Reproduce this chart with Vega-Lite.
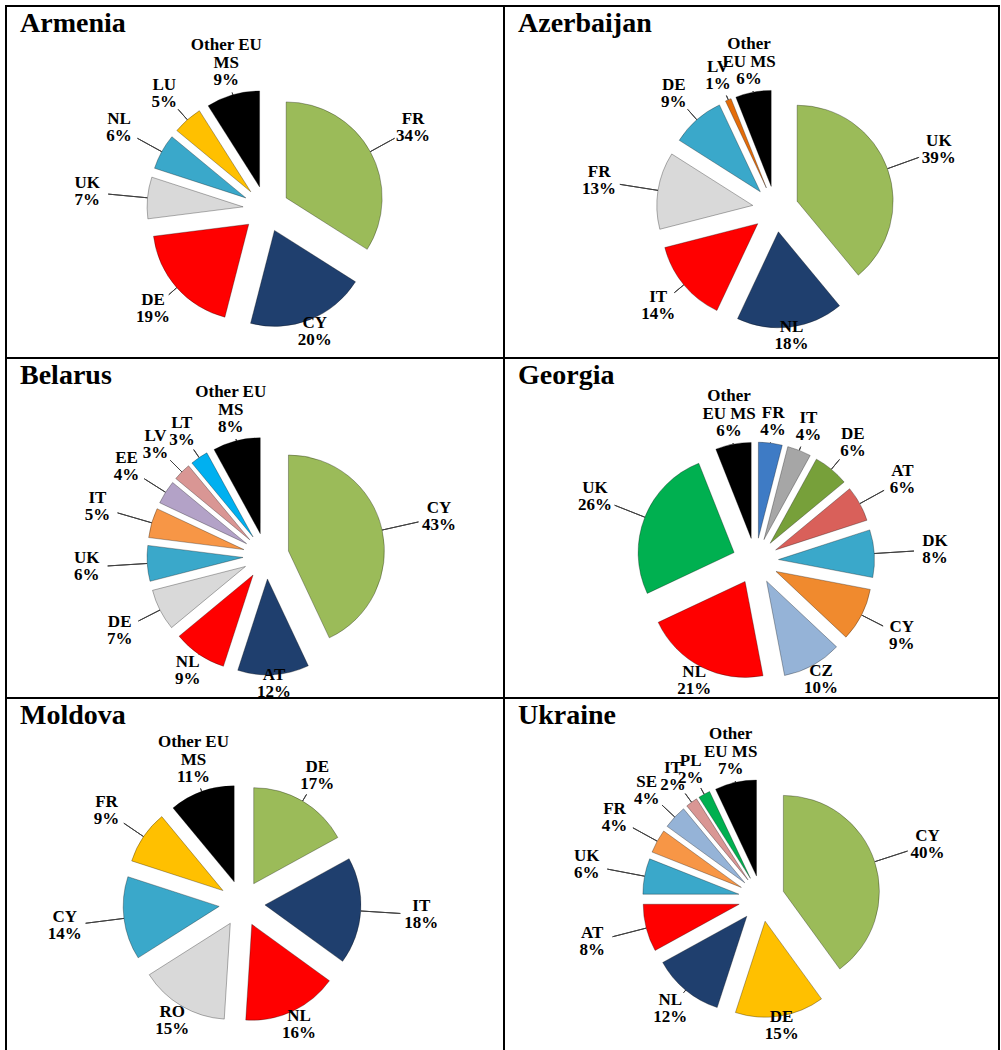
{
  "$schema": "https://vega.github.io/schema/vega-lite/v6.json",
  "padding": {"left": 5, "top": 5, "right": 0, "bottom": 0},
  "background": "white",
  "config": {
    "view": {"stroke": null},
    "concat": {"spacing": 0},
    "title": {"anchor": "start", "font": "Liberation Serif", "fontSize": 28, "fontWeight": "bold", "color": "black", "offset": -33, "baseline": "alphabetic", "dx": 15},
    "text": {"font": "Liberation Serif", "fontWeight": "bold", "fontSize": 17, "lineHeight": 18, "lineBreak": "\n", "align": "center"},
    "arc": {"stroke": "black", "strokeOpacity": 0.3, "strokeWidth": 1}
  },
  "datasets": {
    "armenia": [
      {"i": 1, "code": "FR", "share": 0.34},
      {"i": 2, "code": "CY", "share": 0.20},
      {"i": 3, "code": "DE", "share": 0.19},
      {"i": 4, "code": "UK", "share": 0.07},
      {"i": 5, "code": "NL", "share": 0.06},
      {"i": 6, "code": "LU", "share": 0.05},
      {"i": 7, "code": "Other EU\nMS", "share": 0.09}
    ],
    "azerbaijan": [
      {"i": 1, "code": "UK", "share": 0.39},
      {"i": 2, "code": "NL", "share": 0.18},
      {"i": 3, "code": "IT", "share": 0.14},
      {"i": 4, "code": "FR", "share": 0.13},
      {"i": 5, "code": "DE", "share": 0.09},
      {"i": 6, "code": "LV", "share": 0.01},
      {"i": 7, "code": "Other\nEU MS", "share": 0.06}
    ],
    "belarus": [
      {"i": 1, "code": "CY", "share": 0.43},
      {"i": 2, "code": "AT", "share": 0.12},
      {"i": 3, "code": "NL", "share": 0.09},
      {"i": 4, "code": "DE", "share": 0.07},
      {"i": 5, "code": "UK", "share": 0.06},
      {"i": 6, "code": "IT", "share": 0.05},
      {"i": 7, "code": "EE", "share": 0.04},
      {"i": 8, "code": "LV", "share": 0.03},
      {"i": 9, "code": "LT", "share": 0.03},
      {"i": 10, "code": "Other EU\nMS", "share": 0.08}
    ],
    "georgia": [
      {"i": 1, "code": "FR", "share": 0.04},
      {"i": 2, "code": "IT", "share": 0.04},
      {"i": 3, "code": "DE", "share": 0.06},
      {"i": 4, "code": "AT", "share": 0.06},
      {"i": 5, "code": "DK", "share": 0.08},
      {"i": 6, "code": "CY", "share": 0.09},
      {"i": 7, "code": "CZ", "share": 0.10},
      {"i": 8, "code": "NL", "share": 0.21},
      {"i": 9, "code": "UK", "share": 0.26},
      {"i": 10, "code": "Other\nEU MS", "share": 0.06}
    ],
    "moldova": [
      {"i": 1, "code": "DE", "share": 0.17},
      {"i": 2, "code": "IT", "share": 0.18},
      {"i": 3, "code": "NL", "share": 0.16},
      {"i": 4, "code": "RO", "share": 0.15},
      {"i": 5, "code": "CY", "share": 0.14},
      {"i": 6, "code": "FR", "share": 0.09},
      {"i": 7, "code": "Other EU\nMS", "share": 0.11}
    ],
    "ukraine": [
      {"i": 1, "code": "CY", "share": 0.40},
      {"i": 2, "code": "DE", "share": 0.15},
      {"i": 3, "code": "NL", "share": 0.12},
      {"i": 4, "code": "AT", "share": 0.08},
      {"i": 5, "code": "UK", "share": 0.06},
      {"i": 6, "code": "FR", "share": 0.04},
      {"i": 7, "code": "SE", "share": 0.04},
      {"i": 8, "code": "IT", "share": 0.02},
      {"i": 9, "code": "PL", "share": 0.02},
      {"i": 10, "code": "Other\nEU MS", "share": 0.07}
    ]
  },
  "columns": 2,
  "bounds": "flush",
  "resolve": {"scale": {"color": "independent", "theta": "independent", "x": "independent", "y": "independent"}},
  "concat": [
    {
      "width": 498, "height": 352,
      "title": {"text": "Armenia"},
      "layer": [
        {"data": {"values": [{}]}, "mark": {"type": "rect", "filled": false, "color": "black", "strokeWidth": 2}, "encoding": {"x": {"datum": 0, "type": "quantitative", "scale": {"domain": [0, 1], "nice": false, "zero": false}, "axis": null}, "x2": {"datum": 1}, "y": {"datum": 0, "type": "quantitative", "scale": {"domain": [0, 1], "nice": false, "zero": false}, "axis": null}, "y2": {"datum": 1}}},
        {"data": {"name": "armenia"}, "transform": [{"stack": "share", "groupby": [], "sort": [{"field": "i", "order": "ascending"}], "offset": "normalize", "as": ["s0", "s1"]}],
         "mark": {"type": "arc", "filled": false, "color": "#404040", "strokeOpacity": 1, "strokeWidth": 1, "theta": {"expr": "PI*(datum.s0+datum.s1)"}, "theta2": {"expr": "PI*(datum.s0+datum.s1)"}, "radius": 119, "radius2": {"expr": "180*(cos(PI*(datum.s0+datum.s1))>0?140:128)/sqrt(pow((cos(PI*(datum.s0+datum.s1))>0?140:128)*sin(PI*(datum.s0+datum.s1)),2)+pow(180*cos(PI*(datum.s0+datum.s1)),2)) - 21"}, "xOffset": 11, "yOffset": 27}},
        {
          "data": {"name": "armenia"},
          "encoding": {
            "theta": {"field": "share", "type": "quantitative", "stack": "normalize"},
            "order": {"field": "i", "type": "quantitative"},
            "color": {"field": "code", "type": "nominal", "legend": null, "scale": {"domain": ["FR", "CY", "DE", "UK", "NL", "LU", "Other EU\nMS"], "range": ["#9BBB59", "#1F3F6E", "#FF0000", "#D9D9D9", "#3AA8CA", "#FFC000", "#000000"]}}
          },
          "layer": [
            {"mark": {"type": "arc", "radius": 96, "xOffset": {"expr": "11 + 23*sin(PI*(datum.share_start+datum.share_end))"}, "yOffset": {"expr": "27 - 23*cos(PI*(datum.share_start+datum.share_end))"}}},
            {"mark": {"type": "text", "font": "Liberation Serif", "fontWeight": "bold", "fontSize": 17, "lineHeight": 18, "lineBreak": "\n", "radius": {"expr": "180*(cos(PI*(datum.share_start+datum.share_end))>0?140:128)/sqrt(pow((cos(PI*(datum.share_start+datum.share_end))>0?140:128)*sin(PI*(datum.share_start+datum.share_end)),2)+pow(180*cos(PI*(datum.share_start+datum.share_end)),2))"}, "xOffset": 11, "yOffset": 27, "baseline": "bottom", "dy": {"expr": "-18*(length(split(datum.code, '\\n'))-1)"}}, "encoding": {"text": {"field": "code"}, "color": {"value": "black"}}},
            {"mark": {"type": "text", "font": "Liberation Serif", "fontWeight": "bold", "fontSize": 17, "radius": {"expr": "180*(cos(PI*(datum.share_start+datum.share_end))>0?140:128)/sqrt(pow((cos(PI*(datum.share_start+datum.share_end))>0?140:128)*sin(PI*(datum.share_start+datum.share_end)),2)+pow(180*cos(PI*(datum.share_start+datum.share_end)),2))"}, "xOffset": 11, "yOffset": 27, "baseline": "top"}, "encoding": {"text": {"field": "share", "type": "quantitative", "format": ".0%"}, "color": {"value": "black"}}}
          ]
        }
      ]
    },
    {
      "width": 495, "height": 352,
      "title": {"text": "Azerbaijan"},
      "layer": [
        {"data": {"values": [{}]}, "mark": {"type": "rect", "filled": false, "color": "black", "strokeWidth": 2}, "encoding": {"x": {"datum": 0, "type": "quantitative", "scale": {"domain": [0, 1], "nice": false, "zero": false}, "axis": null}, "x2": {"datum": 1}, "y": {"datum": 0, "type": "quantitative", "scale": {"domain": [0, 1], "nice": false, "zero": false}, "axis": null}, "y2": {"datum": 1}}},
        {"data": {"name": "azerbaijan"}, "transform": [{"stack": "share", "groupby": [], "sort": [{"field": "i", "order": "ascending"}], "offset": "normalize", "as": ["s0", "s1"]}],
         "mark": {"type": "arc", "filled": false, "color": "#404040", "strokeOpacity": 1, "strokeWidth": 1, "theta": {"expr": "PI*(datum.s0+datum.s1)"}, "theta2": {"expr": "PI*(datum.s0+datum.s1)"}, "radius": 119, "radius2": {"expr": "180*(cos(PI*(datum.s0+datum.s1))>0?140:128)/sqrt(pow((cos(PI*(datum.s0+datum.s1))>0?140:128)*sin(PI*(datum.s0+datum.s1)),2)+pow(180*cos(PI*(datum.s0+datum.s1)),2)) - 21"}, "xOffset": 24, "yOffset": 27}},
        {
          "data": {"name": "azerbaijan"},
          "encoding": {
            "theta": {"field": "share", "type": "quantitative", "stack": "normalize"},
            "order": {"field": "i", "type": "quantitative"},
            "color": {"field": "code", "type": "nominal", "legend": null, "scale": {"domain": ["UK", "NL", "IT", "FR", "DE", "LV", "Other\nEU MS"], "range": ["#9BBB59", "#1F3F6E", "#FF0000", "#D9D9D9", "#3AA8CA", "#E46C0A", "#000000"]}}
          },
          "layer": [
            {"mark": {"type": "arc", "radius": 96, "xOffset": {"expr": "24 + 23*sin(PI*(datum.share_start+datum.share_end))"}, "yOffset": {"expr": "27 - 23*cos(PI*(datum.share_start+datum.share_end))"}}},
            {"mark": {"type": "text", "font": "Liberation Serif", "fontWeight": "bold", "fontSize": 17, "lineHeight": 18, "lineBreak": "\n", "radius": {"expr": "180*(cos(PI*(datum.share_start+datum.share_end))>0?140:128)/sqrt(pow((cos(PI*(datum.share_start+datum.share_end))>0?140:128)*sin(PI*(datum.share_start+datum.share_end)),2)+pow(180*cos(PI*(datum.share_start+datum.share_end)),2))"}, "xOffset": 24, "yOffset": 27, "baseline": "bottom", "dy": {"expr": "-18*(length(split(datum.code, '\\n'))-1)"}}, "encoding": {"text": {"field": "code"}, "color": {"value": "black"}}},
            {"mark": {"type": "text", "font": "Liberation Serif", "fontWeight": "bold", "fontSize": 17, "radius": {"expr": "180*(cos(PI*(datum.share_start+datum.share_end))>0?140:128)/sqrt(pow((cos(PI*(datum.share_start+datum.share_end))>0?140:128)*sin(PI*(datum.share_start+datum.share_end)),2)+pow(180*cos(PI*(datum.share_start+datum.share_end)),2))"}, "xOffset": 24, "yOffset": 27, "baseline": "top"}, "encoding": {"text": {"field": "share", "type": "quantitative", "format": ".0%"}, "color": {"value": "black"}}}
          ]
        }
      ]
    },
    {
      "width": 498, "height": 340,
      "title": {"text": "Belarus"},
      "layer": [
        {"data": {"values": [{}]}, "mark": {"type": "rect", "filled": false, "color": "black", "strokeWidth": 2}, "encoding": {"x": {"datum": 0, "type": "quantitative", "scale": {"domain": [0, 1], "nice": false, "zero": false}, "axis": null}, "x2": {"datum": 1}, "y": {"datum": 0, "type": "quantitative", "scale": {"domain": [0, 1], "nice": false, "zero": false}, "axis": null}, "y2": {"datum": 1}}},
        {"data": {"name": "belarus"}, "transform": [{"stack": "share", "groupby": [], "sort": [{"field": "i", "order": "ascending"}], "offset": "normalize", "as": ["s0", "s1"]}],
         "mark": {"type": "arc", "filled": false, "color": "#404040", "strokeOpacity": 1, "strokeWidth": 1, "theta": {"expr": "PI*(datum.s0+datum.s1)"}, "theta2": {"expr": "PI*(datum.s0+datum.s1)"}, "radius": 119, "radius2": {"expr": "180*(cos(PI*(datum.s0+datum.s1))>0?140:128)/sqrt(pow((cos(PI*(datum.s0+datum.s1))>0?140:128)*sin(PI*(datum.s0+datum.s1)),2)+pow(180*cos(PI*(datum.s0+datum.s1)),2)) - 21"}, "xOffset": 11, "yOffset": 28}},
        {
          "data": {"name": "belarus"},
          "encoding": {
            "theta": {"field": "share", "type": "quantitative", "stack": "normalize"},
            "order": {"field": "i", "type": "quantitative"},
            "color": {"field": "code", "type": "nominal", "legend": null, "scale": {"domain": ["CY", "AT", "NL", "DE", "UK", "IT", "EE", "LV", "LT", "Other EU\nMS"], "range": ["#9BBB59", "#1F3F6E", "#FF0000", "#D9D9D9", "#3AA8CA", "#F79646", "#B3A2C7", "#D99694", "#00B0F0", "#000000"]}}
          },
          "layer": [
            {"mark": {"type": "arc", "radius": 96, "xOffset": {"expr": "11 + 23*sin(PI*(datum.share_start+datum.share_end))"}, "yOffset": {"expr": "28 - 23*cos(PI*(datum.share_start+datum.share_end))"}}},
            {"mark": {"type": "text", "font": "Liberation Serif", "fontWeight": "bold", "fontSize": 17, "lineHeight": 18, "lineBreak": "\n", "radius": {"expr": "180*(cos(PI*(datum.share_start+datum.share_end))>0?140:128)/sqrt(pow((cos(PI*(datum.share_start+datum.share_end))>0?140:128)*sin(PI*(datum.share_start+datum.share_end)),2)+pow(180*cos(PI*(datum.share_start+datum.share_end)),2))"}, "xOffset": 11, "yOffset": 28, "baseline": "bottom", "dy": {"expr": "-18*(length(split(datum.code, '\\n'))-1)"}}, "encoding": {"text": {"field": "code"}, "color": {"value": "black"}}},
            {"mark": {"type": "text", "font": "Liberation Serif", "fontWeight": "bold", "fontSize": 17, "radius": {"expr": "180*(cos(PI*(datum.share_start+datum.share_end))>0?140:128)/sqrt(pow((cos(PI*(datum.share_start+datum.share_end))>0?140:128)*sin(PI*(datum.share_start+datum.share_end)),2)+pow(180*cos(PI*(datum.share_start+datum.share_end)),2))"}, "xOffset": 11, "yOffset": 28, "baseline": "top"}, "encoding": {"text": {"field": "share", "type": "quantitative", "format": ".0%"}, "color": {"value": "black"}}}
          ]
        }
      ]
    },
    {
      "width": 495, "height": 340,
      "title": {"text": "Georgia"},
      "layer": [
        {"data": {"values": [{}]}, "mark": {"type": "rect", "filled": false, "color": "black", "strokeWidth": 2}, "encoding": {"x": {"datum": 0, "type": "quantitative", "scale": {"domain": [0, 1], "nice": false, "zero": false}, "axis": null}, "x2": {"datum": 1}, "y": {"datum": 0, "type": "quantitative", "scale": {"domain": [0, 1], "nice": false, "zero": false}, "axis": null}, "y2": {"datum": 1}}},
        {"data": {"name": "georgia"}, "transform": [{"stack": "share", "groupby": [], "sort": [{"field": "i", "order": "ascending"}], "offset": "normalize", "as": ["s0", "s1"]}],
         "mark": {"type": "arc", "filled": false, "color": "#404040", "strokeOpacity": 1, "strokeWidth": 1, "theta": {"expr": "PI*(datum.s0+datum.s1)"}, "theta2": {"expr": "PI*(datum.s0+datum.s1)"}, "radius": 119, "radius2": {"expr": "180*(cos(PI*(datum.s0+datum.s1))>0?140:128)/sqrt(pow((cos(PI*(datum.s0+datum.s1))>0?140:128)*sin(PI*(datum.s0+datum.s1)),2)+pow(180*cos(PI*(datum.s0+datum.s1)),2)) - 21"}, "xOffset": 4, "yOffset": 33}},
        {
          "data": {"name": "georgia"},
          "encoding": {
            "theta": {"field": "share", "type": "quantitative", "stack": "normalize"},
            "order": {"field": "i", "type": "quantitative"},
            "color": {"field": "code", "type": "nominal", "legend": null, "scale": {"domain": ["FR", "IT", "DE", "AT", "DK", "CY", "CZ", "NL", "UK", "Other\nEU MS"], "range": ["#3E7BC5", "#A6A6A6", "#77A03A", "#D9605A", "#3AA8CA", "#F08A2E", "#95B3D7", "#FF0000", "#00B050", "#000000"]}}
          },
          "layer": [
            {"mark": {"type": "arc", "radius": 96, "xOffset": {"expr": "4 + 23*sin(PI*(datum.share_start+datum.share_end))"}, "yOffset": {"expr": "33 - 23*cos(PI*(datum.share_start+datum.share_end))"}}},
            {"mark": {"type": "text", "font": "Liberation Serif", "fontWeight": "bold", "fontSize": 17, "lineHeight": 18, "lineBreak": "\n", "radius": {"expr": "180*(cos(PI*(datum.share_start+datum.share_end))>0?140:128)/sqrt(pow((cos(PI*(datum.share_start+datum.share_end))>0?140:128)*sin(PI*(datum.share_start+datum.share_end)),2)+pow(180*cos(PI*(datum.share_start+datum.share_end)),2))"}, "xOffset": 4, "yOffset": 33, "baseline": "bottom", "dy": {"expr": "-18*(length(split(datum.code, '\\n'))-1)"}}, "encoding": {"text": {"field": "code"}, "color": {"value": "black"}}},
            {"mark": {"type": "text", "font": "Liberation Serif", "fontWeight": "bold", "fontSize": 17, "radius": {"expr": "180*(cos(PI*(datum.share_start+datum.share_end))>0?140:128)/sqrt(pow((cos(PI*(datum.share_start+datum.share_end))>0?140:128)*sin(PI*(datum.share_start+datum.share_end)),2)+pow(180*cos(PI*(datum.share_start+datum.share_end)),2))"}, "xOffset": 4, "yOffset": 33, "baseline": "top"}, "encoding": {"text": {"field": "share", "type": "quantitative", "format": ".0%"}, "color": {"value": "black"}}}
          ]
        }
      ]
    },
    {
      "width": 498, "height": 353,
      "title": {"text": "Moldova"},
      "layer": [
        {"data": {"values": [{}]}, "mark": {"type": "rect", "filled": false, "color": "black", "strokeWidth": 2}, "encoding": {"x": {"datum": 0, "type": "quantitative", "scale": {"domain": [0, 1], "nice": false, "zero": false}, "axis": null}, "x2": {"datum": 1}, "y": {"datum": 0, "type": "quantitative", "scale": {"domain": [0, 1], "nice": false, "zero": false}, "axis": null}, "y2": {"datum": 1}}},
        {"data": {"name": "moldova"}, "transform": [{"stack": "share", "groupby": [], "sort": [{"field": "i", "order": "ascending"}], "offset": "normalize", "as": ["s0", "s1"]}],
         "mark": {"type": "arc", "filled": false, "color": "#404040", "strokeOpacity": 1, "strokeWidth": 1, "theta": {"expr": "PI*(datum.s0+datum.s1)"}, "theta2": {"expr": "PI*(datum.s0+datum.s1)"}, "radius": 119, "radius2": {"expr": "180*(cos(PI*(datum.s0+datum.s1))>0?140:128)/sqrt(pow((cos(PI*(datum.s0+datum.s1))>0?140:128)*sin(PI*(datum.s0+datum.s1)),2)+pow(180*cos(PI*(datum.s0+datum.s1)),2)) - 21"}, "xOffset": -13, "yOffset": 29}},
        {
          "data": {"name": "moldova"},
          "encoding": {
            "theta": {"field": "share", "type": "quantitative", "stack": "normalize"},
            "order": {"field": "i", "type": "quantitative"},
            "color": {"field": "code", "type": "nominal", "legend": null, "scale": {"domain": ["DE", "IT", "NL", "RO", "CY", "FR", "Other EU\nMS"], "range": ["#9BBB59", "#1F3F6E", "#FF0000", "#D9D9D9", "#3AA8CA", "#FFC000", "#000000"]}}
          },
          "layer": [
            {"mark": {"type": "arc", "radius": 96, "xOffset": {"expr": "-13 + 23*sin(PI*(datum.share_start+datum.share_end))"}, "yOffset": {"expr": "29 - 23*cos(PI*(datum.share_start+datum.share_end))"}}},
            {"mark": {"type": "text", "font": "Liberation Serif", "fontWeight": "bold", "fontSize": 17, "lineHeight": 18, "lineBreak": "\n", "radius": {"expr": "180*(cos(PI*(datum.share_start+datum.share_end))>0?140:128)/sqrt(pow((cos(PI*(datum.share_start+datum.share_end))>0?140:128)*sin(PI*(datum.share_start+datum.share_end)),2)+pow(180*cos(PI*(datum.share_start+datum.share_end)),2))"}, "xOffset": -13, "yOffset": 29, "baseline": "bottom", "dy": {"expr": "-18*(length(split(datum.code, '\\n'))-1)"}}, "encoding": {"text": {"field": "code"}, "color": {"value": "black"}}},
            {"mark": {"type": "text", "font": "Liberation Serif", "fontWeight": "bold", "fontSize": 17, "radius": {"expr": "180*(cos(PI*(datum.share_start+datum.share_end))>0?140:128)/sqrt(pow((cos(PI*(datum.share_start+datum.share_end))>0?140:128)*sin(PI*(datum.share_start+datum.share_end)),2)+pow(180*cos(PI*(datum.share_start+datum.share_end)),2))"}, "xOffset": -13, "yOffset": 29, "baseline": "top"}, "encoding": {"text": {"field": "share", "type": "quantitative", "format": ".0%"}, "color": {"value": "black"}}}
          ]
        }
      ]
    },
    {
      "width": 495, "height": 353,
      "title": {"text": "Ukraine"},
      "layer": [
        {"data": {"values": [{}]}, "mark": {"type": "rect", "filled": false, "color": "black", "strokeWidth": 2}, "encoding": {"x": {"datum": 0, "type": "quantitative", "scale": {"domain": [0, 1], "nice": false, "zero": false}, "axis": null}, "x2": {"datum": 1}, "y": {"datum": 0, "type": "quantitative", "scale": {"domain": [0, 1], "nice": false, "zero": false}, "axis": null}, "y2": {"datum": 1}}},
        {"data": {"name": "ukraine"}, "transform": [{"stack": "share", "groupby": [], "sort": [{"field": "i", "order": "ascending"}], "offset": "normalize", "as": ["s0", "s1"]}],
         "mark": {"type": "arc", "filled": false, "color": "#404040", "strokeOpacity": 1, "strokeWidth": 1, "theta": {"expr": "PI*(datum.s0+datum.s1)"}, "theta2": {"expr": "PI*(datum.s0+datum.s1)"}, "radius": 119, "radius2": {"expr": "180*(cos(PI*(datum.s0+datum.s1))>0?140:128)/sqrt(pow((cos(PI*(datum.s0+datum.s1))>0?140:128)*sin(PI*(datum.s0+datum.s1)),2)+pow(180*cos(PI*(datum.s0+datum.s1)),2)) - 21"}, "xOffset": 10, "yOffset": 24}},
        {
          "data": {"name": "ukraine"},
          "encoding": {
            "theta": {"field": "share", "type": "quantitative", "stack": "normalize"},
            "order": {"field": "i", "type": "quantitative"},
            "color": {"field": "code", "type": "nominal", "legend": null, "scale": {"domain": ["CY", "DE", "NL", "AT", "UK", "FR", "SE", "IT", "PL", "Other\nEU MS"], "range": ["#9BBB59", "#FFC000", "#1F3F6E", "#FF0000", "#3AA8CA", "#F79646", "#95B3D7", "#D99694", "#00B050", "#000000"]}}
          },
          "layer": [
            {"mark": {"type": "arc", "radius": 96, "xOffset": {"expr": "10 + 23*sin(PI*(datum.share_start+datum.share_end))"}, "yOffset": {"expr": "24 - 23*cos(PI*(datum.share_start+datum.share_end))"}}},
            {"mark": {"type": "text", "font": "Liberation Serif", "fontWeight": "bold", "fontSize": 17, "lineHeight": 18, "lineBreak": "\n", "radius": {"expr": "180*(cos(PI*(datum.share_start+datum.share_end))>0?140:128)/sqrt(pow((cos(PI*(datum.share_start+datum.share_end))>0?140:128)*sin(PI*(datum.share_start+datum.share_end)),2)+pow(180*cos(PI*(datum.share_start+datum.share_end)),2))"}, "xOffset": 10, "yOffset": 24, "baseline": "bottom", "dy": {"expr": "-18*(length(split(datum.code, '\\n'))-1)"}}, "encoding": {"text": {"field": "code"}, "color": {"value": "black"}}},
            {"mark": {"type": "text", "font": "Liberation Serif", "fontWeight": "bold", "fontSize": 17, "radius": {"expr": "180*(cos(PI*(datum.share_start+datum.share_end))>0?140:128)/sqrt(pow((cos(PI*(datum.share_start+datum.share_end))>0?140:128)*sin(PI*(datum.share_start+datum.share_end)),2)+pow(180*cos(PI*(datum.share_start+datum.share_end)),2))"}, "xOffset": 10, "yOffset": 24, "baseline": "top"}, "encoding": {"text": {"field": "share", "type": "quantitative", "format": ".0%"}, "color": {"value": "black"}}}
          ]
        }
      ]
    }
  ]
}
